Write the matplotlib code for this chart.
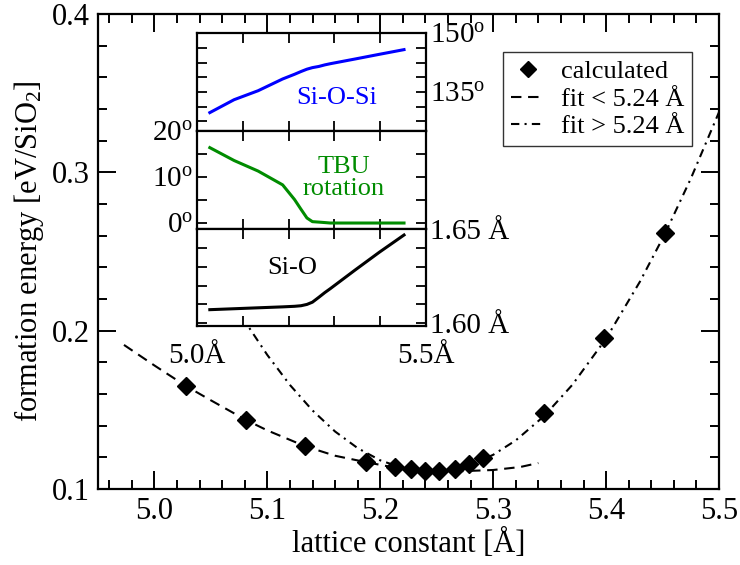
import numpy as np
import matplotlib
matplotlib.use('Agg')
import matplotlib.pyplot as plt
from matplotlib.ticker import MultipleLocator, FixedLocator

plt.rcParams['font.family'] = ['Liberation Serif', 'DejaVu Serif']
plt.rcParams['mathtext.fontset'] = 'custom'
plt.rcParams['mathtext.rm'] = 'Liberation Serif'
plt.rcParams['mathtext.it'] = 'Liberation Serif:italic'

# ---- data ----
lattice = [5.028, 5.081, 5.1335, 5.187, 5.213, 5.227, 5.240, 5.252, 5.266, 5.279, 5.291, 5.345, 5.398, 5.452]
energy = [0.165, 0.1436, 0.127, 0.117, 0.114, 0.1126, 0.1114, 0.1114, 0.1126, 0.1158, 0.1196, 0.148, 0.1954, 0.2617]

fit_low_x = [4.973, 5.0, 5.028, 5.05, 5.081, 5.10, 5.1335, 5.16, 5.187, 5.213, 5.24, 5.27, 5.30, 5.324, 5.34]
fit_low_y = [0.191, 0.178, 0.165, 0.156, 0.1436, 0.137, 0.127, 0.121, 0.117, 0.1135, 0.1117, 0.1112, 0.112, 0.1139, 0.1164]

fit_high_x = [5.06, 5.08, 5.10, 5.12, 5.14, 5.16, 5.18, 5.20, 5.22, 5.24, 5.26, 5.28, 5.30, 5.32, 5.345, 5.37, 5.40, 5.43, 5.452, 5.475, 5.50]
fit_high_y = [0.232, 0.206, 0.1846, 0.1657, 0.1496, 0.1363, 0.1258, 0.1181, 0.1132, 0.1111, 0.1118, 0.1153, 0.1216, 0.1307, 0.146, 0.1657, 0.195, 0.231, 0.261, 0.296, 0.338]

sioSi_angle = [129.7, 133.0, 135.3, 138.3, 139.5, 140.2, 140.8, 141.2, 141.5, 141.9, 142.2, 143.4, 144.6, 145.8]
tbu_rotation = [16.4, 13.6, 11.3, 8.3, 5.1, 3.0, 1.1, 0.3, 0.2, 0.1, 0.0, 0.0, 0.0, 0.0]
sio_bond = [1.6072, 1.6077, 1.6082, 1.6087, 1.6090, 1.6093, 1.6100, 1.6112, 1.6138, 1.6163, 1.6184, 1.6283, 1.6378, 1.6470]

W, H = 740, 565
fig = plt.figure(figsize=(W / 100, H / 100), dpi=100)

def box(l, r, t, b):
    return [l / W, 1 - b / H, (r - l) / W, (b - t) / H]

ax = fig.add_axes(box(98, 719, 14, 489))
ax.plot(fit_low_x, fit_low_y, color='black', lw=1.5, dashes=(5, 3.2), label='fit < 5.24 Å', zorder=2)
ax.plot(fit_high_x, fit_high_y, color='black', lw=1.5, dashes=(4, 2.5, 1, 2.5), label='fit > 5.24 Å', zorder=2)
ax.plot(lattice, energy, linestyle='none', marker='D', color='black', ms=9.5, label='calculated', zorder=3)

ax.set_xlim(4.95, 5.5)
ax.set_ylim(0.1, 0.4)
ax.xaxis.set_major_locator(MultipleLocator(0.1))
ax.xaxis.set_minor_locator(MultipleLocator(0.02))
ax.yaxis.set_major_locator(MultipleLocator(0.1))
ax.yaxis.set_minor_locator(MultipleLocator(0.02))
ax.xaxis.set_major_formatter(matplotlib.ticker.FormatStrFormatter('%.1f'))
ax.yaxis.set_major_formatter(matplotlib.ticker.FormatStrFormatter('%.1f'))
ax.tick_params(which='both', direction='in', top=True, right=True, width=1.4, labelsize=22)
ax.tick_params(which='major', length=13, pad=6)
ax.tick_params(which='minor', length=6.5)
for s in ax.spines.values():
    s.set_linewidth(1.6)
ax.set_xlabel('lattice constant [Å]', fontsize=22, labelpad=2)
ax.set_ylabel('formation energy [eV/SiO$_2$]', fontsize=22, labelpad=4)

handles, labels = ax.get_legend_handles_labels()
order = [2, 0, 1]
leg = ax.legend([handles[i] for i in order], [labels[i] for i in order],
                loc='upper right', bbox_to_anchor=(692 / W, 1 - 52 / H), bbox_transform=fig.transFigure,
                fontsize=19, frameon=True, fancybox=False, handlelength=1.3, handletextpad=0.6,
                borderpad=0.3, labelspacing=0.15, borderaxespad=0, markerscale=0.85)
leg.get_frame().set_edgecolor('black')
leg.get_frame().set_linewidth(1.0)

# ---- inset ----
L, R = 197, 426
ax1 = fig.add_axes(box(L, R, 33, 131))
ax2 = fig.add_axes(box(L, R, 131, 229))
ax3 = fig.add_axes(box(L, R, 229, 326))

ax1.plot(lattice, sioSi_angle, color='#0000ff', lw=2.2)
ax2.plot(lattice, tbu_rotation, color='#008c00', lw=2.2)
ax3.plot(lattice, sio_bond, color='black', lw=2.2)

ax1.set_ylim(125, 150.05)
ax2.set_ylim(-1.3, 20.02)
ax3.set_ylim(1.5985, 1.6502)

for a in (ax1, ax2, ax3):
    a.set_xlim(5.0, 5.5)
    a.xaxis.set_major_locator(MultipleLocator(0.1))
    a.tick_params(which='both', direction='in', top=True, right=True, bottom=True, left=True,
                  length=7, width=1.3, labelsize=21, labelbottom=False, labelleft=False, labelright=False)
    for s in a.spines.values():
        s.set_linewidth(1.6)
    a.set_zorder(5)
    a.patch.set_facecolor('white')

ax1.yaxis.set_major_locator(FixedLocator([150, 135]))
ax1.yaxis.set_minor_locator(FixedLocator([146.25, 142.5, 138.75, 131.25, 127.5]))
ax1.tick_params(labelright=True, pad=3)
ax1.set_yticklabels(['150$^{\\mathrm{o}}$', '135$^{\\mathrm{o}}$'])

ax2.yaxis.set_major_locator(FixedLocator([20, 10, 0]))
ax2.yaxis.set_minor_locator(FixedLocator([15, 5]))
ax2.tick_params(labelleft=True, pad=3)
ax2.set_yticklabels(['20$^{\\mathrm{o}}$', '10$^{\\mathrm{o}}$', '0$^{\\mathrm{o}}$'])

ax3.yaxis.set_major_locator(FixedLocator([1.65, 1.60]))
ax3.yaxis.set_minor_locator(FixedLocator([1.61, 1.62, 1.63, 1.64]))
ax3.tick_params(axis='y', labelright=True, pad=3)
ax3.tick_params(axis='x', labelbottom=True, pad=12)
ax3.set_yticklabels(['1.65 Å', '1.60 Å'])
ax3.xaxis.set_major_locator(FixedLocator([5.0, 5.1, 5.2, 5.3, 5.4, 5.5]))
ax3.set_xticklabels(['5.0Å', '', '', '', '', '5.5Å'])

ident = matplotlib.transforms.IdentityTransform()
fig.text(337, H - 98, 'Si-O-Si', color='#0000ff', fontsize=19, ha='center', va='center',
         transform=ident, zorder=10)
fig.text(344, H - 178, 'TBU\nrotation', color='#008c00', fontsize=19, ha='center', va='center',
         linespacing=0.95, transform=ident, zorder=10)
fig.text(292, H - 268, 'Si-O', color='black', fontsize=19, ha='center', va='center',
         transform=ident, zorder=10)

fig.savefig('out.png', dpi=100)
